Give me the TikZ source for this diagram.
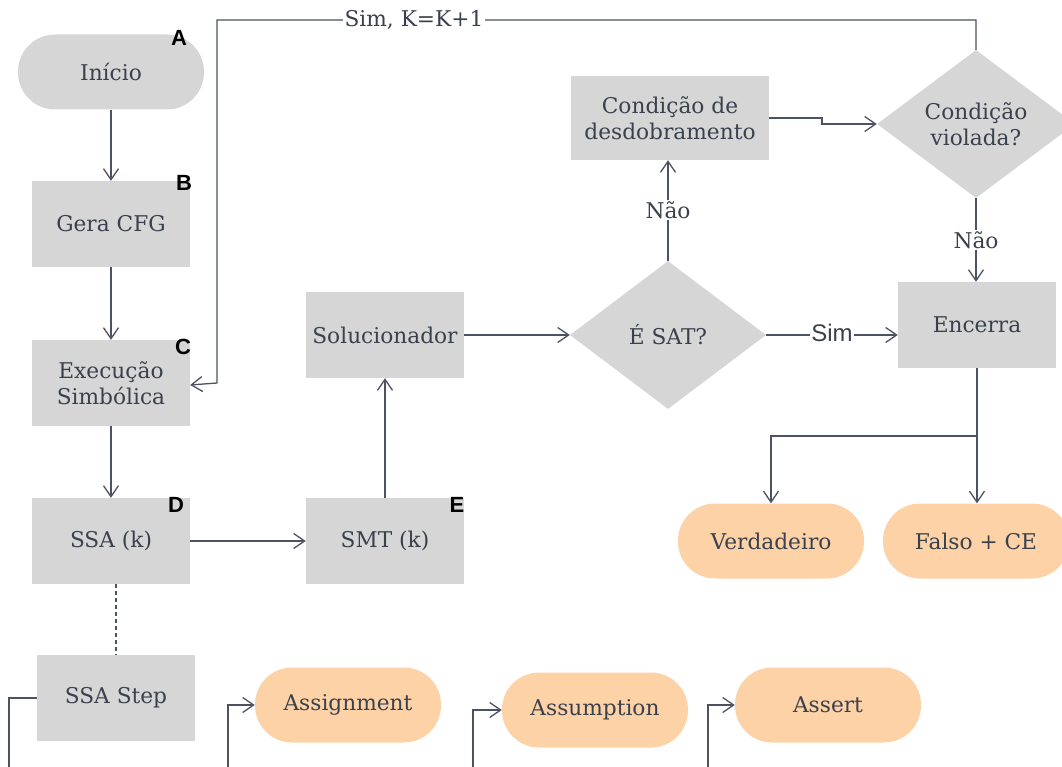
\documentclass[tikz,border=0pt]{standalone}
\usepackage{fontspec}
\setmainfont{DejaVu Serif}
\newfontfamily\tagfont{Liberation Sans}
\usetikzlibrary{shapes.geometric, arrows.meta}

\definecolor{ink}{HTML}{3A414D}
\definecolor{wire}{HTML}{4B5262}
\definecolor{boxgray}{HTML}{D6D6D6}
\definecolor{peach}{HTML}{FCD2A6}

\begin{document}
\begin{tikzpicture}[x=1pt, y=-1pt,
  font=\fontsize{21.7}{25.5}\selectfont, text=ink,
  box/.style={fill=boxgray, minimum width=158pt, minimum height=86pt,
    inner sep=0pt, align=center},
  term/.style={fill=#1, minimum width=186pt, minimum height=75pt,
    rounded corners=37pt, inner sep=0pt},
  decision/.style={diamond, fill=boxgray, minimum width=196pt,
    minimum height=148pt, inner sep=0pt, aspect=1.32, align=center},
  tag/.style={font=\tagfont\bfseries\fontsize{22}{22}\selectfont,
    text=black, inner sep=0pt},
  link/.style={draw=wire, line width=1.3pt},
  flow/.style={link, -{Straight Barb[length=11pt, width=15pt]}},
  lbl/.style={fill=white, inner sep=1.5pt},
  sanslbl/.style={lbl, font=\tagfont\fontsize{24}{24}\selectfont},
]
\useasboundingbox (0,0) rectangle (1062,767);

% main column
\node[term=boxgray] (start) at (111,72) {Início};
\node[box] (cfg) at (111,224) {Gera CFG};
\node[box] (exec) at (111,383) {Execução\\Simbólica};
\node[box] (ssa) at (111,541) {SSA (k)};
\node[box] (step) at (116,698) {SSA Step};

% solver chain
\node[box] (smt) at (385,541) {SMT (k)};
\node[box] (solver) at (385,335) {Solucionador};
\node[decision] (sat) at (668,335) {É SAT?};
\node[box, minimum width=198pt, minimum height=84pt] (unwind) at (670,118)
  {Condição de\\desdobramento};
\node[decision, minimum width=198pt] (viol) at (976,124) {Condição\\violada?};
\node[box] (stop) at (977,325) {Encerra};

% outcomes
\node[term=peach] (true) at (771,541) {Verdadeiro};
\node[term=peach] (false) at (976,541) {Falso + CE};

% SSA step kinds
\node[term=peach] (asg) at (348,705) {Assignment};
\node[term=peach] (asm) at (595,710) {Assumption};
\node[term=peach] (ast) at (828,705) {Assert};

% corner tags
\node[tag] (tagA) at (179,38) {A};
\node[tag] (tagB) at (184,183) {B};
\node[tag] (tagC) at (183,347) {C};
\node[tag] (tagD) at (176,505) {D};
\node[tag] (tagE) at (457,505) {E};

% routing points
\coordinate (loopTop) at (217,20);
\coordinate (jog) at (822,0);
\coordinate (split) at (977,436);
\coordinate (stepTail) at (9,767);
\coordinate (asgTail) at (228,767);
\coordinate (asmTail) at (473,767);
\coordinate (astTail) at (708,767);

% connectors
\draw[flow] (start) -- (cfg);
\draw[flow] (cfg) -- (exec);
\draw[flow] (exec) -- (ssa);
\draw[flow] (ssa) -- (smt);
\draw[flow] (smt) -- (solver);
\draw[flow] (solver) -- (sat);
\draw[flow] (sat.east) -- (sat.east -| stop.west);
\draw[flow] (sat.north) -- (sat.north |- unwind.south);
\draw[flow] (unwind.east) -- (unwind.east -| jog) -- (viol.west -| jog) -- (viol.west);
\draw[flow] (viol.south) -- (viol.south |- stop.north);
\draw[flow] (viol.north) |- (loopTop) -- (loopTop |- exec.east) -- ([yshift=-2pt]exec.east);
\draw[flow] (stop.south) -- (stop.south |- false.north);
\draw[flow] (split) -| (true.north);
\draw[link, dash pattern=on 4pt off 3pt, line width=1.2pt]
  (step.north |- ssa.south) -- (step.north);
\draw[link] (step.west) -| (stepTail);
\draw[flow] (asgTail) |- (asg.west);
\draw[flow] (asmTail) |- (asm.west);
\draw[flow] (astTail) |- (ast.west);

% connector labels
\node[lbl] (loopLbl) at (414,20) {Sim, K=K+1};
\node[lbl] (noUnwind) at (668,210) {Não};
\node[lbl] (noViol) at (976,240) {Não};
\node[sanslbl] (yesSat) at (832,333) {Sim};
\end{tikzpicture}
\end{document}
